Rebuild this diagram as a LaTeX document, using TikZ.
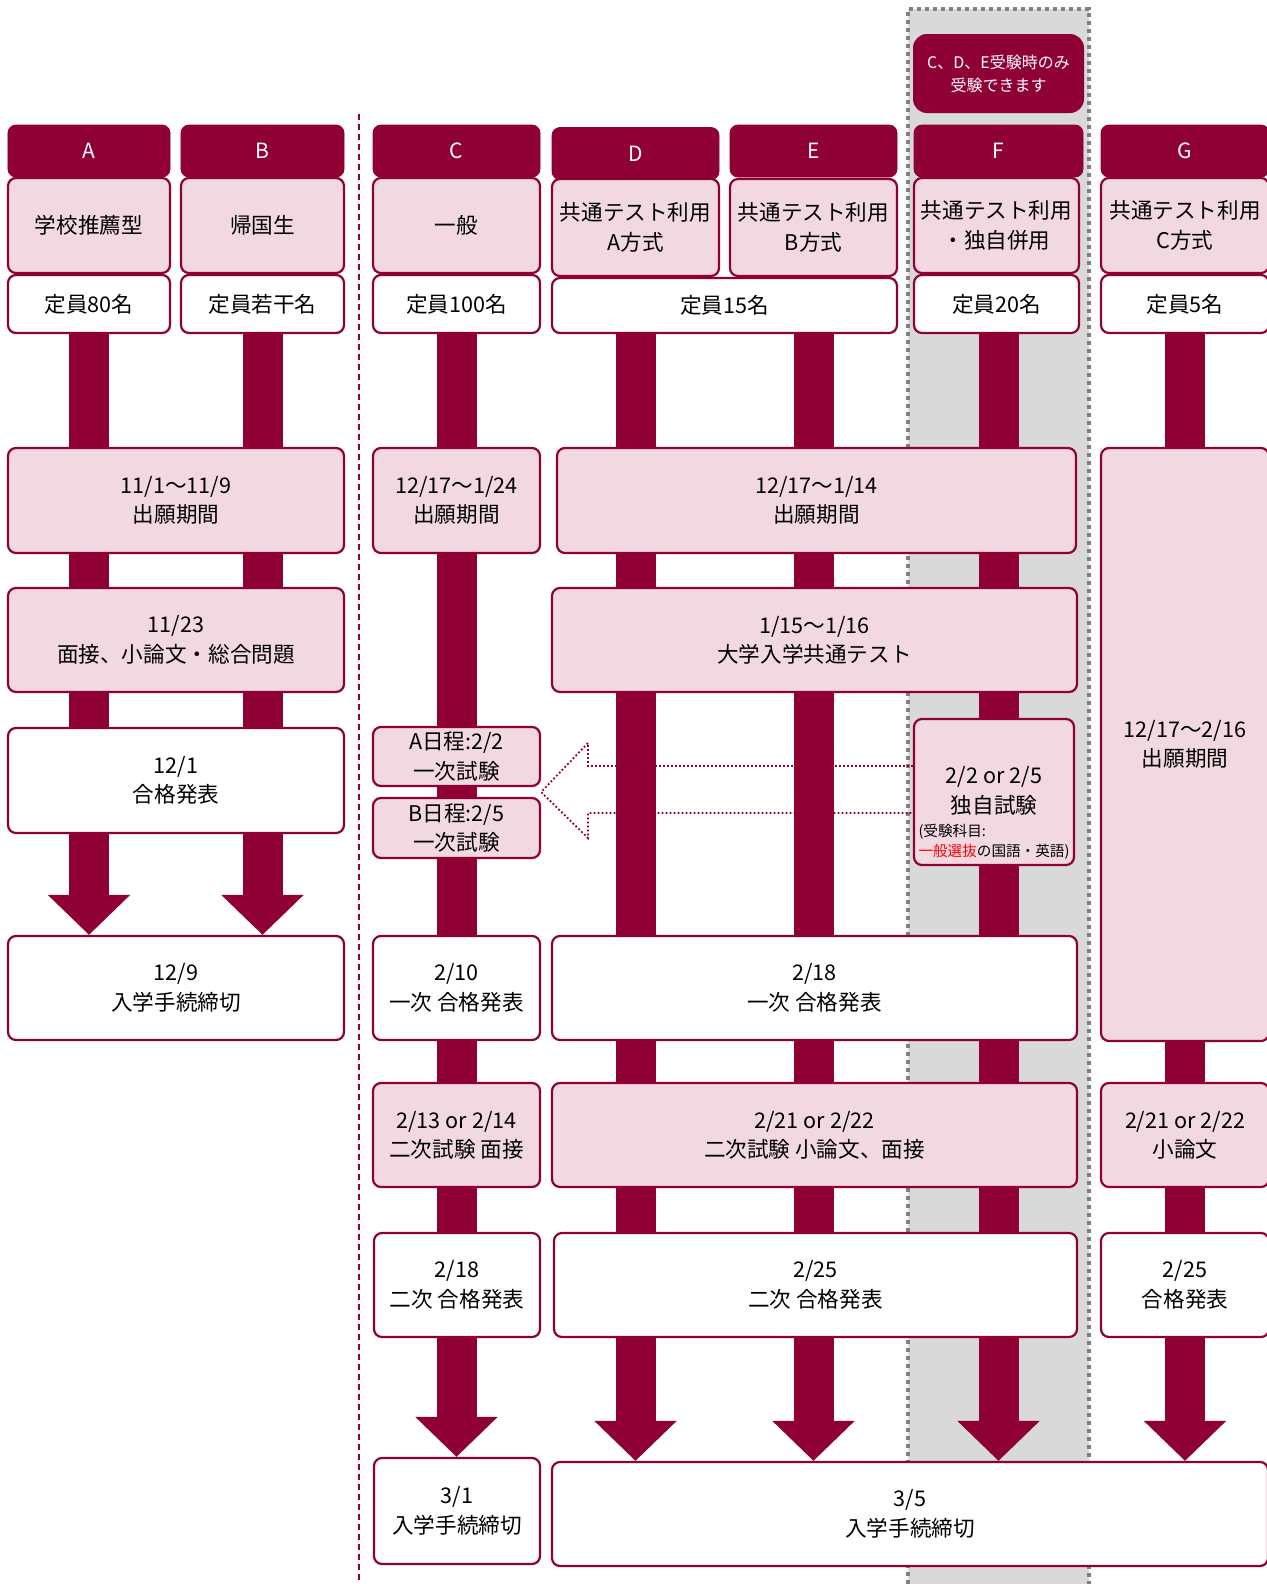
\documentclass[tikz,border=0pt]{standalone}
\usepackage{fontspec}
\setmainfont{Noto Sans CJK JP}
\usetikzlibrary{arrows.meta,calc}
\definecolor{crim}{HTML}{8F0034}
\definecolor{pinkf}{HTML}{F2D9E1}
\definecolor{greyf}{HTML}{D9D9D9}
\definecolor{greyd}{HTML}{808080}
\pgfdeclarelayer{back}
\pgfdeclarelayer{bars}
\pgfsetlayers{back,bars,main}
\tikzset{
  hd/.style={draw=crim,fill=crim,text=white,rounded corners=4bp,minimum height=26bp,inner sep=0pt,font=\fontsize{10.5bp}{13bp}\selectfont},
  pk/.style={draw=crim,fill=pinkf,line width=1.1bp,rounded corners=4bp,inner sep=0pt,align=center,font=\fontsize{10.8bp}{14.7bp}\selectfont},
  wt/.style={pk,fill=white},
  bar/.style={crim,line width=20bp,-{Triangle[width=40bp,length=20bp]}},
  dotarrow/.style={crim,line width=0.9bp,dash pattern=on 0.9bp off 1.1bp},
  divider/.style={crim,line width=1bp,dash pattern=on 3bp off 2bp},
}
\begin{document}
\begin{tikzpicture}[x=0.5bp,y=-0.5bp]
\useasboundingbox (0,0) rectangle (1267,1584);
%%
\begin{pgfonlayer}{back}
  \fill [greyf] (908,9) rectangle (1089,1584);
  \draw [greyd,line width=2bp,dash pattern=on 2bp off 2bp] (908,1584) -- (908,9) -- (1089,9) -- (1089,1584);
\end{pgfonlayer}
\draw [divider] (359,114) -- (359,1584);
%%
\node (note_f) at (998.5,73.5) [fill=crim,rounded corners=7bp,minimum width=85.5bp,minimum height=39.5bp,inner sep=0pt,align=center,text=white,font=\fontsize{8bp}{11.6bp}\selectfont] {C、D、E受験時のみ\\受験できます};
%%
\node (head_a) at (89,151) [hd,minimum width=81bp] {A};
  \node (head_b) at (262.5,151) [hd,minimum width=81.5bp] {B};
  \node (head_c) at (456.5,151) [hd,minimum width=83.5bp] {C};
  \node (head_d) at (635.5,153.5) [hd,minimum width=83.5bp] {D};
  \node (head_e) at (813.5,151) [hd,minimum width=83.5bp] {E};
  \node (head_f) at (998.5,151) [hd,minimum width=84.5bp] {F};
  \node (head_g) at (1185,151) [hd,minimum width=84bp] {G};
%
\node (kind_a) at (89,225.5) [pk,minimum width=81bp,minimum height=47.5bp] {学校推薦型};
  \node (kind_b) at (262.5,225.5) [pk,minimum width=81.5bp,minimum height=47.5bp] {帰国生};
  \node (kind_c) at (456.5,225.5) [pk,minimum width=83.5bp,minimum height=47.5bp] {一般};
  \node (kind_d) at (635.5,227.5) [pk,minimum width=83.5bp,minimum height=48.5bp] {共通テスト利用\\A方式};
  \node (kind_e) at (813.5,227.5) [pk,minimum width=83.5bp,minimum height=48.5bp] {共通テスト利用\\B方式};
  \node (kind_f) at (996.5,225.5) [pk,minimum width=82.5bp,minimum height=47.5bp] {共通テスト利用\\・独自併用};
  \node (kind_g) at (1185,225.5) [pk,minimum width=84bp,minimum height=47.5bp] {共通テスト利用\\C方式};
%
\node (cap_a) at (89,304) [wt,minimum width=81bp,minimum height=29bp] {定員80名};
  \node (cap_b) at (262.5,304) [wt,minimum width=81.5bp,minimum height=29bp] {定員若干名};
  \node (cap_c) at (456.5,304) [wt,minimum width=83.5bp,minimum height=29bp] {定員100名};
  \node (cap_de) at (724.5,305.5) [wt,minimum width=172.5bp,minimum height=27.5bp] {定員15名};
  \node (cap_f) at (996.5,304) [wt,minimum width=82.5bp,minimum height=29bp] {定員20名};
  \node (cap_g) at (1185,304) [wt,minimum width=84bp,minimum height=29bp] {定員5名};
%%
\node (apply_ab) at (176,500.5) [pk,minimum width=168bp,minimum height=52.5bp] {11/1～11/9\\出願期間};
  \node (apply_c) at (456.5,500.5) [pk,minimum width=83.5bp,minimum height=52.5bp] {12/17～1/24\\出願期間};
  \node (apply_df) at (816.5,500.5) [pk,minimum width=259.5bp,minimum height=52.5bp] {12/17～1/14\\出願期間};
  \node (apply_g) at (1185,744.5) [pk,minimum width=84bp,minimum height=296.5bp] {12/17～2/16\\出願期間};
%
\node (exam_ab) at (176,640) [pk,minimum width=168bp,minimum height=52bp] {11/23\\面接、小論文・総合問題};
  \node (test_df) at (814.5,640) [pk,minimum width=262.5bp,minimum height=52bp] {1/15～1/16\\大学入学共通テスト};
%
\node (pass_ab) at (176,780.5) [wt,minimum width=168bp,minimum height=52.5bp] {12/1\\合格発表};
  \node (sched_a) at (456.5,756.5) [pk,minimum width=83.5bp,minimum height=29.5bp] {A日程:2/2\\一次試験};
  \node (sched_b) at (456.5,828) [pk,minimum width=83.5bp,minimum height=30bp] {B日程:2/5\\一次試験};
  \node (own_f) at (994,792) [pk,minimum width=80bp,minimum height=73bp] {\rule{0pt}{31bp}2/2 or 2/5\\独自試験\\[1.5bp]{\fontsize{7.3bp}{10bp}\selectfont\begin{tabular}{@{}l@{}}(受験科目:\\\textcolor{red}{一般選抜}の国語・英語)\end{tabular}}};
%
\node (end_ab) at (176,988) [wt,minimum width=168bp,minimum height=52bp] {12/9\\入学手続締切};
  \node (first_c) at (456.5,988) [wt,minimum width=83.5bp,minimum height=52bp] {2/10\\一次 合格発表};
  \node (first_df) at (814.5,988) [wt,minimum width=262.5bp,minimum height=52bp] {2/18\\一次 合格発表};
%
\node (second_c) at (456.5,1135) [pk,minimum width=83.5bp,minimum height=52bp] {2/13 or 2/14\\二次試験 面接};
  \node (second_df) at (814.5,1135) [pk,minimum width=262.5bp,minimum height=52bp] {2/21 or 2/22\\二次試験 小論文、面接};
  \node (essay_g) at (1185,1135) [pk,minimum width=84bp,minimum height=52bp] {2/21 or 2/22\\小論文};
%
\node (pass_c) at (457,1285) [wt,minimum width=83bp,minimum height=52bp] {2/18\\二次 合格発表};
  \node (pass_df) at (815.5,1285) [wt,minimum width=261.5bp,minimum height=52bp] {2/25\\二次 合格発表};
  \node (pass_g) at (1185,1285) [wt,minimum width=84bp,minimum height=52bp] {2/25\\合格発表};
%
\node (end_c) at (457,1511) [wt,minimum width=83bp,minimum height=53bp] {3/1\\入学手続締切};
  \node (end_dg) at (910,1514) [wt,minimum width=358bp,minimum height=52bp] {3/5\\入学手続締切};
%%
\begin{pgfonlayer}{bars}
  \draw [bar] (kind_a.south) -- (kind_a.south |- end_ab.north);
  \draw [bar] (kind_b.south) -- (kind_b.south |- end_ab.north);
  \draw [bar] (kind_c.south) -- (kind_c.south |- end_c.north);
  \draw [bar] (kind_d.south) -- (kind_d.south |- end_dg.north);
  \draw [bar] (kind_e.south) -- (kind_e.south |- end_dg.north);
  \draw [bar] (head_f.south) -- (head_f.south |- end_dg.north);
  \draw [bar] (kind_g.south) -- (kind_g.south |- end_dg.north);
\end{pgfonlayer}
%%
\coordinate (tip_c) at ($(sched_a.south east)!.5!(sched_b.north east)$);
\draw [dotarrow] (own_f.west |- 0,766) -- (588,766) -- (588,743) -- (tip_c) -- (588,838) -- (588,813) -- (own_f.west |- 0,813);
%
\end{tikzpicture}
\end{document}
